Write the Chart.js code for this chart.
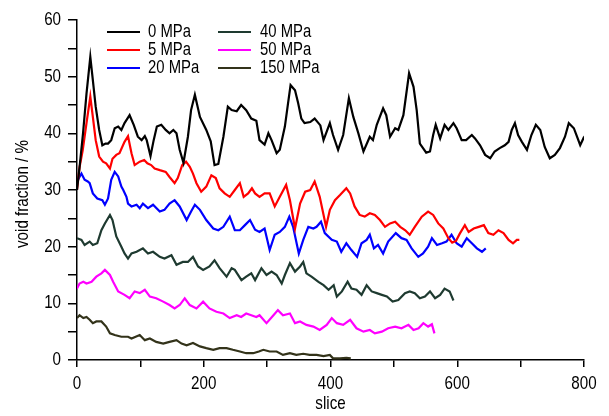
<!DOCTYPE html>
<html>
<head>
<meta charset="utf-8">
<script src="https://cdn.jsdelivr.net/npm/chart.js@4/dist/chart.umd.min.js"></script>
<style>
  html, body { margin: 0; padding: 0; background: #fff; }
  canvas { display: block; }
</style>
</head>
<body>
<canvas id="voidChart" width="609" height="416"></canvas>
<script>
// --- datos: [slice, void fraction %] ---
const mpa0 = [[0,30],[4,34],[9.5,40],[15,47],[21,53.5],[25,49.4],[29.5,44.7],[35,40.6],[40,37.9],[45,38.2],[49,38.2],[54,38.8],[59.5,40.9],[65,41.2],[70,40.6],[75,41.8],[83,43.2],[89.5,41.5],[96,39.4],[102,38.8],[107,39.5],[110,38.8],[116,36],[121,38.8],[126,41.2],[133,41.5],[140,40.6],[146,40],[152,40.6],[157,40],[162,37.1],[168,34.8],[175,39.4],[180,44.1],[186,46.8],[194,42.9],[204,40.6],[211,38.6],[217,34.4],[223,34.6],[231,39.4],[238,44.7],[244,44.1],[252,43.9],[259,45],[267,44.1],[275,42.6],[283,42.2],[288,38.8],[296,38],[302,40],[307,38.8],[315,36.5],[320,37.1],[328,41.2],[333,45.3],[337,48.5],[344,47.6],[349,45.3],[354,42.6],[359,41.8],[368,42],[375,42.6],[384,41.4],[389,38.8],[399,41.8],[404,39.7],[412,37.1],[420,39.7],[429,46.2],[436,42.9],[444,40],[452,36.8],[462,39.4],[467,38.8],[473,41.5],[483,44.4],[488,43.2],[494,39.4],[502,40.9],[507,40.6],[515,43.2],[524,50.6],[531,48.2],[536,44.1],[541,38.2],[546,37.4],[551,36.6],[557,36.8],[562,39.7],[566,41.5],[573,39.1],[580,41.5],[586,40.6],[594,41.8],[599,40.9],[607,38.8],[614,38.8],[623,39.7],[628,39.1],[636,37.9],[644,36.2],[652,35.6],[659,36.8],[667,37.4],[675,37.9],[681,38.5],[686,40.6],[691,41.8],[696,39.7],[702,38.5],[710,37.1],[717,39.7],[724,41.5],[731,40.6],[738,37.6],[746,35.6],[754,36.2],[762,37.4],[770,39.4],[776,41.8],[784,40.9],[789,39.4],[794,37.9],[799,39.1],[800,38.8]];

const mpa5 = [[0,30],[4,34],[9,37],[15,41.8],[21,46.5],[25,42.9],[29.5,38.8],[35,35.9],[41,35],[46,34.7],[52,33.8],[56,35.5],[62,36.2],[67,36.5],[75,38.5],[80.5,39.5],[86,36.5],[91,34.4],[99,35],[106,35.3],[111,34.7],[117,34.4],[122.5,33.8],[130.6,33.5],[140,33.2],[146,32.3],[154,31.2],[159,32.1],[166,34.4],[172,35],[178,34.1],[183,32.9],[188.5,31.2],[196,29.7],[204,30.6],[212,32.6],[219,32.1],[225,30.3],[233,29.4],[241,28.8],[249,30],[257,31.2],[263,28.8],[270,29.4],[276,30.3],[281,29.4],[288,28.8],[296,29.4],[304,29.4],[312,27.1],[320,28.8],[330,30.9],[336,28.2],[344,23.2],[352,27.6],[360,29.7],[368,30],[375,31.5],[383,28.8],[393,23.5],[399,26.5],[407,28.2],[415,29.1],[425,30.3],[431,29.4],[438,27.1],[446,25.6],[454,25.3],[462,25.9],[470,25.6],[478,24.7],[486,23.5],[494,24.1],[502,24.4],[510,23.5],[518,22.9],[525,22.1],[533,23.5],[544,25.3],[554,26.2],[562,25.6],[570,24.1],[578,23.2],[586,21.5],[592,20.7],[598,21],[604,22.3],[612,23.8],[618,22.6],[626,23.2],[634,23.5],[642,23.8],[649,22.4],[657,22.1],[665,22.9],[673,22.4],[681,21.2],[688,20.6],[694,21.2],[698,21.2]];

const mpa20 = [[0,31.5],[7,32.9],[12,31.8],[17,31.5],[20,31.2],[25,29.4],[32,28.5],[40,28.2],[44,27.4],[49,28.5],[54,31.8],[59.5,33.2],[65,32.4],[70,30.6],[73,30],[78,28.8],[80.5,27.6],[86,27.1],[94,27.4],[99,26.8],[104,27.6],[112,26.8],[120,27.4],[130.6,26.2],[138,26.5],[146,27.6],[154,28.2],[162,27.1],[173,24.7],[180,26.2],[186,27.4],[194,26.5],[204,24.7],[215,23.2],[223,22.9],[231,23.5],[241,25.3],[249,22.9],[257,22.9],[265,23.8],[273,24.7],[281,23],[288,22.6],[296,23.2],[304,19.4],[312,22.1],[320,22.6],[328,23.5],[335,25.3],[341,23.5],[350,18.8],[357,21.2],[365,23.5],[373,23.2],[378,23.5],[385,24.4],[391,22.4],[402,21.2],[410,20.9],[417,19.1],[425,20.6],[433,19.4],[442,18.2],[449,20.6],[457,21.2],[462,22.1],[468.5,19.7],[475,20.3],[483,18.8],[491,20.9],[503,22.4],[512,21.5],[520,21.2],[528,19.7],[538.5,18.2],[546,18.8],[554,20],[560,21.5],[568,20.3],[576,20.6],[583,20.9],[591,22.1],[599,20.6],[607,20],[615,21.5],[623,20.6],[631,19.7],[639,19.1],[645,19.7]];

const mpa40 = [[0,21.5],[7,21.2],[12,20.3],[20,20.9],[25,20.3],[32,20.6],[38.5,22.9],[44,24.1],[52,25.6],[56,24.7],[62,21.8],[70,20],[75,18.8],[80.5,17.9],[86,18.8],[94,19.1],[104,19.7],[112,18.8],[120,19.1],[130.6,18.2],[138,17.9],[149,18.5],[157,16.8],[167,17.3],[175,17.3],[183,18.2],[191,16.5],[199,15.9],[209,16.5],[217,17.6],[225,16.2],[236,14.7],[244,16.2],[249,15.9],[259.5,14.1],[267,14.7],[275,15.3],[281,14.1],[291,16.2],[299,15],[307,15.6],[315,15],[323,13.5],[328,15],[336,17.1],[344,15.6],[352,16.5],[357,17.3],[362,15.3],[370,14.7],[381,13.8],[389,13.2],[397,12.4],[405,13.2],[410,11.2],[418,12.1],[427,13.8],[433,12.6],[441,12.4],[449,11.5],[457,13.2],[465,12.1],[473,11.8],[481,11.5],[489,11.2],[498,10.3],[507,10.6],[517.5,11.8],[525,12.1],[533,11.8],[541,10.9],[549,11.2],[557,12.1],[565,10.9],[573,11.5],[580,12.6],[588,12.1],[594,10.5]];

const mpa50 = [[0,12.6],[4,13.5],[10,13.8],[15,13.5],[23,13.8],[30.5,14.7],[38.5,15.3],[44,15.9],[52,15],[57,13.8],[65,12.1],[75,11.5],[83,10.9],[91,12.1],[99,11.8],[107,12.4],[115,11.2],[125,10.9],[136,10.3],[146,9.7],[154,9.1],[162,9.7],[170,10.9],[178,9.7],[188.5,9.1],[199,10.3],[209,9.1],[220,8.5],[231,8.2],[241,7.4],[252,7.9],[259,7.6],[267,8.2],[275,7.9],[283,7.6],[288,7.9],[299,6.5],[310,7.9],[317,8.8],[325,7.9],[336,8.2],[344,6.5],[352,6.8],[362,6.2],[373,5.9],[383,5.3],[394,6.2],[402,7.4],[410,6.5],[420,6.2],[431,7.1],[441,5.6],[452,5],[462,5.3],[470,4.7],[481,5],[491,5.6],[502,5.9],[512,5.6],[523,6.2],[531,5.3],[539,5.6],[546.5,6.5],[554,5.9],[560,6.3],[564,4.7]];

const mpa150 = [[0,7.4],[4,7.9],[10,7.4],[15,7.6],[20,7.1],[25,6.5],[30.5,6.8],[38.5,6.8],[46,5.9],[52,4.7],[59.5,4.4],[70,4.1],[80.5,4.1],[86,3.8],[99,4.4],[107,3.5],[115,3.8],[125,3.2],[136,2.9],[146,3.2],[157,3.5],[165,2.9],[173,2.6],[183,3],[194,2.4],[204,2.1],[215,1.8],[225,2.1],[236,2.1],[246,1.8],[257,1.5],[267,1.2],[278,1.2],[287,1.5],[294,1.8],[304,1.5],[315,1.5],[325,0.9],[336,1.2],[346,0.9],[357,1.1],[367,0.9],[378,0.9],[389,0.7],[399,0.9],[404,0.3],[415,0.3],[425,0.4],[432,0.3]];

const seriesLabels = ['0 MPa', '5 MPa', '20 MPa', '40 MPa', '50 MPa', '150 MPa'];
const seriesData = [mpa0, mpa5, mpa20, mpa40, mpa50, mpa150];
const seriesColors = ['#000000', '#ff0000', '#0000ff', '#1e3a30', '#ff00ff', '#33331a'];

const xTitle = 'slice';
const yTitle = 'void fraction / %';

// no hay Arial Narrow instalada: se comprime Liberation Sans en horizontal
const FONT = "'Liberation Sans', Arial, sans-serif";

function narrowText(ctx, text, x, y, opt) {
    ctx.save();
    ctx.translate(x, y);
    if (opt.rotate) ctx.rotate(opt.rotate);
    ctx.scale(opt.squeeze, 1);
    ctx.font = opt.size + 'px ' + FONT;
    ctx.textAlign = opt.align || 'center';
    ctx.textBaseline = 'middle';
    ctx.fillStyle = '#000';
    ctx.fillText(text, 0, 0);
    ctx.restore();
}

// --- textos de ejes (etiquetas de ticks + títulos) ---
const axisText = {
    id: 'axisText',
    afterDraw(chart) {
        const ctx = chart.ctx;
        const xs = chart.scales.x, ys = chart.scales.y;
        xs.ticks.forEach(t => {
            if (t.value % 200 !== 0) return;
            narrowText(ctx, String(t.value), xs.getPixelForValue(t.value), 383.5, { size: 18.5, squeeze: 0.82 });
        });
        ys.ticks.forEach(t => {
            if (t.value % 10 !== 0) return;
            narrowText(ctx, String(t.value), 61, ys.getPixelForValue(t.value), { size: 18.5, squeeze: 0.82, align: 'right' });
        });
        narrowText(ctx, xTitle, (xs.left + xs.right) / 2, 404, { size: 18.5, squeeze: 0.82 });
        narrowText(ctx, yTitle, 22.5, (ys.top + ys.bottom) / 2 + 4, { size: 18.5, squeeze: 0.82, rotate: -Math.PI / 2 });
    }
};

// --- leyenda en dos columnas, dentro del área ---
const gridLegend = {
    id: 'gridLegend',
    afterDraw(chart) {
        const ctx = chart.ctx;
        const cols = [{ x0: 107, x1: 140, tx: 148 }, { x0: 218, x1: 251, tx: 260 }];
        chart.data.datasets.forEach((ds, i) => {
            const c = cols[Math.floor(i / 3)];
            const y = 32 + (i % 3) * 18;
            ctx.save();
            ctx.strokeStyle = ds.borderColor;
            ctx.lineWidth = 2;
            ctx.beginPath();
            ctx.moveTo(c.x0, y);
            ctx.lineTo(c.x1, y);
            ctx.stroke();
            ctx.restore();
            narrowText(ctx, ds.label, c.tx, y, { size: 17.5, squeeze: 0.85, align: 'left' });
        });
    }
};

new Chart(document.getElementById('voidChart').getContext('2d'), {
    type: 'line',
    data: {
        datasets: seriesData.map((d, i) => ({
            label: seriesLabels[i],
            data: d,
            borderColor: seriesColors[i],
            borderWidth: 2.2,
            pointRadius: 0,
            fill: false,
            tension: 0
        }))
    },
    options: {
        responsive: false,
        animation: false,
        devicePixelRatio: 1,
        layout: { padding: { top: 20, right: 25, left: 0, bottom: 0 } },
        plugins: { legend: { display: false }, tooltip: { enabled: false } },
        scales: {
            x: {
                type: 'linear',
                min: 0, max: 800,
                afterFit: s => { s.height = 56; },
                ticks: { stepSize: 100, display: false },
                grid: { drawOnChartArea: false, drawTicks: true, tickLength: 7, color: '#000', lineWidth: 1.5 },
                border: { display: true, color: '#000', width: 1.5 }
            },
            y: {
                min: 0, max: 60,
                afterFit: s => { s.width = 77; },
                ticks: { stepSize: 5, display: false },
                grid: { drawOnChartArea: false, drawTicks: true, tickLength: 9, color: '#000', lineWidth: 1.5 },
                border: { display: true, color: '#000', width: 1.5 }
            }
        }
    },
    plugins: [axisText, gridLegend]
});
</script>
</body>
</html>
